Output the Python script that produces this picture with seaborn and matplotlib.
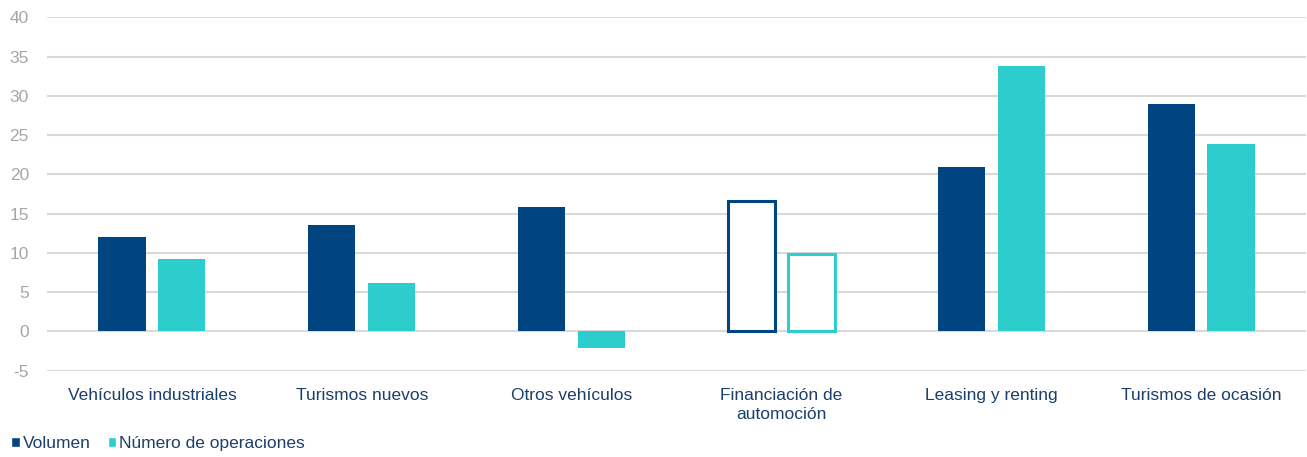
import matplotlib
matplotlib.use("Agg")
import matplotlib.pyplot as plt
from matplotlib.patches import Patch
import seaborn as sns
import pandas as pd

# Category labels and series values (% change)
categories = ["Vehículos industriales", "Turismos nuevos", "Otros vehículos",
              "Financiación de\nautomoción", "Leasing y renting", "Turismos de ocasión"]
volumen = [12.0, 13.5, 15.9, 16.6, 20.9, 29.0]
operaciones = [9.2, 6.2, -2.1, 9.8, 33.8, 23.9]
series_names = ["Volumen", "Número de operaciones"]
y_ticks = [-5, 0, 5, 10, 15, 20, 25, 30, 35, 40]

navy = "#004481"
cyan = "#2DCCCD"
text_col = "#1B3F6B"
grid_col = "#D9D9D9"

df = pd.DataFrame({
    "categoria": categories * 2,
    "valor": volumen + operaciones,
    "serie": [series_names[0]] * len(categories) + [series_names[1]] * len(categories),
})

sns.set_theme(style="white")
plt.rcParams["font.family"] = ["Liberation Sans", "DejaVu Sans"]

fig = plt.figure(figsize=(13.07, 4.57), dpi=100)
ax = fig.add_axes([47 / 1307, 1 - 371 / 457, 1 - 48 / 1307, (371 - 17) / 457])

sns.barplot(data=df, x="categoria", y="valor", hue="serie", order=categories,
            hue_order=series_names, palette=[navy, cyan], saturation=1,
            width=0.57, gap=0.21, linewidth=0, legend=False, ax=ax)

# The automotive-finance group is drawn as outlined bars
for cont, col in zip(ax.containers, [navy, cyan]):
    bar = cont[3]
    bar.set_facecolor("white")
    bar.set_edgecolor(col)
    bar.set_linewidth(2.2)

ax.set_ylim(-5.05, 40.05)
ax.set_xlim(-0.5, len(categories) - 0.5)
ax.set_yticks(y_ticks)
ax.set_yticklabels([str(t) for t in y_ticks])
ax.yaxis.grid(True, color=grid_col, linewidth=1.5)
ax.set_axisbelow(True)
for s in ax.spines.values():
    s.set_visible(False)
ax.set_xlabel("")
ax.set_ylabel("")
ax.tick_params(axis="y", colors="#A6A6A6", labelsize=12.5, length=0, pad=13)
ax.tick_params(axis="x", colors=text_col, labelsize=12.5, length=0, pad=12)
for lbl in ax.get_yticklabels():
    lbl.set_color("#A6A6A6")
for lbl in ax.get_xticklabels():
    lbl.set_color(text_col)
    lbl.set_linespacing(1.4)

handles = [Patch(facecolor=navy), Patch(facecolor=cyan)]
fig.legend(handles, series_names, loc="lower left", bbox_to_anchor=(-0.002, -0.018),
           frameon=False, ncol=2, fontsize=12.5, labelcolor=text_col,
           handlelength=0.5, handleheight=0.5, handletextpad=0.15,
           columnspacing=1.0, borderaxespad=0.4)

fig.savefig("out.png", dpi=100)
